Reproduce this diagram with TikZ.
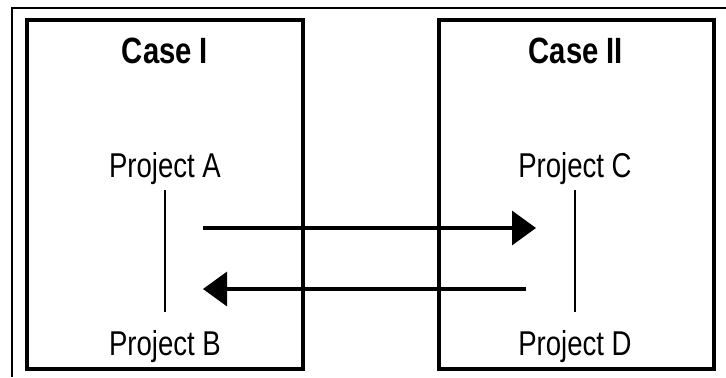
\documentclass[tikz,border=0pt]{standalone}
\usepackage{fontspec}
\setmainfont[FakeStretch=0.8]{Liberation Sans}
\usetikzlibrary{arrows.meta}

\tikzset{
	casebox/.style={line width=2.4pt},
	title/.style={anchor=base, font=\bfseries\fontsize{26}{30}\selectfont},
	proj/.style={anchor=base, inner sep=0.15cm, font=\fontsize{24.5}{28}\selectfont},
	link/.style={line width=1.5pt},
	flow/.style={line width=2.4pt, -{Triangle[length=0.6cm, width=0.85cm]}}
}

\begin{document}
\begin{tikzpicture}[]
	\useasboundingbox (0,0) rectangle (18.15,9.425);
	%\draw[help lines] (0,0) grid (18,9);
	\draw[line width=1pt] (0.3,0) -- (0.3,9.225) -- (18.15,9.225);
	\draw[casebox] (0.675,0.2) rectangle (7.575,8.925);
	\draw[casebox] (10.975,0.2) rectangle (17.85,8.925);
	\node[title] (c1) at (4.125,7.85) {Case I};
	\node[title] (c2) at (14.4,7.85) {Case II};
	\node[proj] (pA) at (4.125,5.0) {Project A};
	\node[proj] (pB) at (4.125,0.55) {Project B};
	\node[proj] (pC) at (14.375,5.0) {Project C};
	\node[proj] (pD) at (14.375,0.55) {Project D};
	\draw[link, shorten >=0.3cm] (pA.south) -- (pB.north);
	\draw[link, shorten >=0.3cm] (pC.south) -- (pD.north);
	% arrows between the two cases
	\coordinate (fwdS) at (5.075,3.725);
	\coordinate (fwdE) at (13.4,3.725);
	\coordinate (bckS) at (13.15,2.2);
	\coordinate (bckE) at (5.075,2.2);
	\draw[flow] (fwdS) -- (fwdE);
	\draw[flow] (bckS) -- (bckE);
\end{tikzpicture}
\end{document}
